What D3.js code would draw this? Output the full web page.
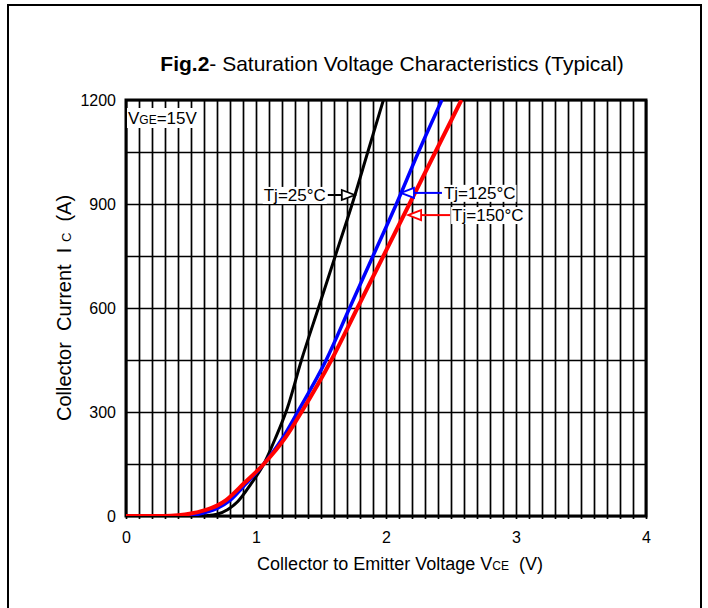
<!DOCTYPE html>
<html>
<head>
<meta charset="utf-8">
<title>Fig.2 Saturation Voltage Characteristics</title>
<script src="https://cdn.jsdelivr.net/npm/d3@7"></script>
<style>
  body { margin: 0; background: #fff; }
  svg { display: block; font-family: "Liberation Sans", Arial, sans-serif; }
</style>
</head>
<body>
<svg id="chart" width="708" height="608"></svg>
<script>
// VCE (V) and Ic (A)
const vce25  = [0, 0.55, 0.62, 0.7, 0.78, 0.86, 0.96, 1.06, 1.15, 1.24, 1.35, 1.48, 1.61, 1.74, 1.86, 1.98];
const ic25   = [0, 0, 1, 5, 18, 42, 92, 150, 225, 310, 450, 600, 750, 900, 1050, 1200];

const vce125 = [0, 0.4, 0.5, 0.6, 0.7, 0.8, 0.92, 1.06, 1.2, 1.32, 1.54, 1.72, 1.9, 2.08, 2.25, 2.43];
const ic125  = [0, 0, 2, 9, 22, 45, 92, 150, 222, 300, 450, 600, 750, 900, 1050, 1200];

const vce150 = [0, 0.3, 0.4, 0.5, 0.6, 0.7, 0.77, 0.91, 1.06, 1.23, 1.35, 1.58, 1.78, 1.98, 2.18, 2.38, 2.58];
const ic150  = [0, 0, 2, 7, 16, 30, 46, 95, 150, 228, 300, 450, 600, 750, 900, 1050, 1200];

const xTicks = [0, 1, 2, 3, 4];
const yTicks = [0, 300, 600, 900, 1200];
const xGridStep = 0.1;
const yGridStep = 150;

// curve labels: text, colour, where the arrow points (V, A)
const labelText  = ["Tj=25°C", "Tj=125°C", "Tj=150°C"];
const labelColor = ["#000000", "#0000ff", "#ff0000"];
const labelTipV  = [1.76, 2.115, 2.17];
const labelTipI  = [926, 932, 868];

const svg = d3.select("#chart");
const pLeft = 126, pRight = 646, pTop = 100, pBottom = 516;

const x = d3.scaleLinear().domain([0, 4]).range([pLeft, pRight]);
const y = d3.scaleLinear().domain([0, 1200]).range([pBottom, pTop]);

// outer frame of the figure
svg.append("path")
    .attr("d", "M8,612V5H701V612")
    .attr("fill", "none")
    .attr("stroke", "#000")
    .attr("stroke-width", 2);

// title
const title = svg.append("text")
    .attr("x", 392).attr("y", 71)
    .attr("text-anchor", "middle")
    .attr("font-size", 21);
title.append("tspan").attr("font-weight", "bold").text("Fig.2");
title.append("tspan").text("- Saturation Voltage Characteristics (Typical)");

// grid lines
const vGrid = d3.range(0, 41).map(i => +(i * xGridStep).toFixed(1));
const hGrid = d3.range(0, 1200 + 1, yGridStep);

svg.append("g")
    .attr("transform", `translate(0,${pBottom + 3})`)
    .call(d3.axisBottom(x).tickValues(vGrid).tickSize(-(pBottom - pTop + 3)).tickFormat(""))
    .call(g => g.select(".domain").remove())
    .call(g => g.selectAll(".tick line").attr("stroke", "#000").attr("stroke-width", 1.7));

svg.append("g")
    .attr("transform", `translate(${pLeft},0)`)
    .call(d3.axisLeft(y).tickValues(hGrid).tickSize(-(pRight - pLeft)).tickFormat(""))
    .call(g => g.select(".domain").remove())
    .call(g => g.selectAll(".tick line").attr("stroke", "#000").attr("stroke-width", 1.7));

// tick labels
svg.append("g")
    .attr("transform", `translate(0,${pBottom})`)
    .call(d3.axisBottom(x).tickValues(xTicks).tickSize(0).tickPadding(16).tickFormat(d3.format("d")))
    .call(g => g.select(".domain").remove())
    .call(g => g.selectAll("text").attr("font-size", 16).attr("fill", "#000")
        .attr("font-family", "Liberation Sans, Arial, sans-serif"));

svg.append("g")
    .attr("transform", `translate(${pLeft},0)`)
    .call(d3.axisLeft(y).tickValues(yTicks).tickSize(0).tickPadding(10).tickFormat(d3.format("d")))
    .call(g => g.select(".domain").remove())
    .call(g => g.selectAll("text").attr("font-size", 16).attr("fill", "#000")
        .attr("font-family", "Liberation Sans, Arial, sans-serif"));

// axis titles
const xt = svg.append("text")
    .attr("x", 400).attr("y", 570)
    .attr("text-anchor", "middle")
    .attr("font-size", 18);
xt.append("tspan").text("Collector to Emitter Voltage V");
xt.append("tspan").attr("font-size", 12).text("CE");
xt.append("tspan").text("\u00a0 (V)");

const yt = svg.append("text")
    .attr("transform", `translate(71,${(pTop + pBottom) / 2}) rotate(-90)`)
    .attr("text-anchor", "middle")
    .attr("font-size", 20);
yt.append("tspan").text("Collector\u00a0 Current\u00a0 I ");
yt.append("tspan").attr("font-size", 13).text("C");
yt.append("tspan").text("\u00a0 (A)");

// curves
svg.append("clipPath").attr("id", "plotclip")
  .append("rect")
    .attr("x", pLeft).attr("y", pTop)
    .attr("width", pRight - pLeft).attr("height", pBottom - pTop);

const line = d3.line()
    .x(d => x(d[0]))
    .y(d => y(d[1]))
    .curve(d3.curveMonotoneX);

const series = [
    { v: vce25,  i: ic25,  color: "#000000", w: 3 },
    { v: vce125, i: ic125, color: "#0000ff", w: 3.5 },
    { v: vce150, i: ic150, color: "#ff0000", w: 4 }
];

// plot frame
svg.append("rect")
    .attr("x", pLeft).attr("y", pTop)
    .attr("width", pRight - pLeft).attr("height", pBottom - pTop)
    .attr("fill", "none")
    .attr("stroke", "#000")
    .attr("stroke-width", 3);

svg.append("g")
    .attr("clip-path", "url(#plotclip)")
  .selectAll("path")
  .data(series)
  .join("path")
    .attr("d", s => line(s.v.map((v, k) => [v, s.i[k]])))
    .attr("fill", "none")
    .attr("stroke", s => s.color)
    .attr("stroke-width", s => s.w);

// VGE label with white background
const vge = svg.append("g");
vge.append("rect")
    .attr("x", pLeft + 1).attr("y", 108)
    .attr("width", 74).attr("height", 20)
    .attr("fill", "#fff");
const vgeText = vge.append("text")
    .attr("x", pLeft + 2).attr("y", 124)
    .attr("font-size", 17);
vgeText.append("tspan").text("V");
vgeText.append("tspan").attr("font-size", 12).text("GE");
vgeText.append("tspan").text("=15V");

// curve labels with arrows
const tail = [27, 41, 42];
const headLen = 13, headHalf = 5;

labelText.forEach((t, k) => {
    const tx = x(labelTipV[k]), ty = y(labelTipI[k]);
    const dir = k === 0 ? -1 : 1;  // label sits left of the tip for 25°C
    const g = svg.append("g");
    const txt = g.append("text")
        .attr("x", tx + dir * (tail[k] + 2))
        .attr("y", ty)
        .attr("dy", "0.35em")
        .attr("text-anchor", dir < 0 ? "end" : "start")
        .attr("font-size", 17)
        .text(t);
    const bb = txt.node().getBBox();
    g.insert("rect", "text")
        .attr("x", bb.x - 1).attr("y", bb.y + 1)
        .attr("width", bb.width + 2).attr("height", bb.height - 2)
        .attr("fill", "#fff");
    g.append("line")
        .attr("x1", tx + dir * headLen).attr("y1", ty)
        .attr("x2", tx + dir * tail[k]).attr("y2", ty)
        .attr("stroke", labelColor[k]).attr("stroke-width", 2);
    g.append("path")
        .attr("d", `M${tx},${ty}L${tx + dir * headLen},${ty - headHalf}L${tx + dir * headLen},${ty + headHalf}Z`)
        .attr("fill", "#fff")
        .attr("stroke", labelColor[k])
        .attr("stroke-width", 1.8);
});
</script>
</body>
</html>
